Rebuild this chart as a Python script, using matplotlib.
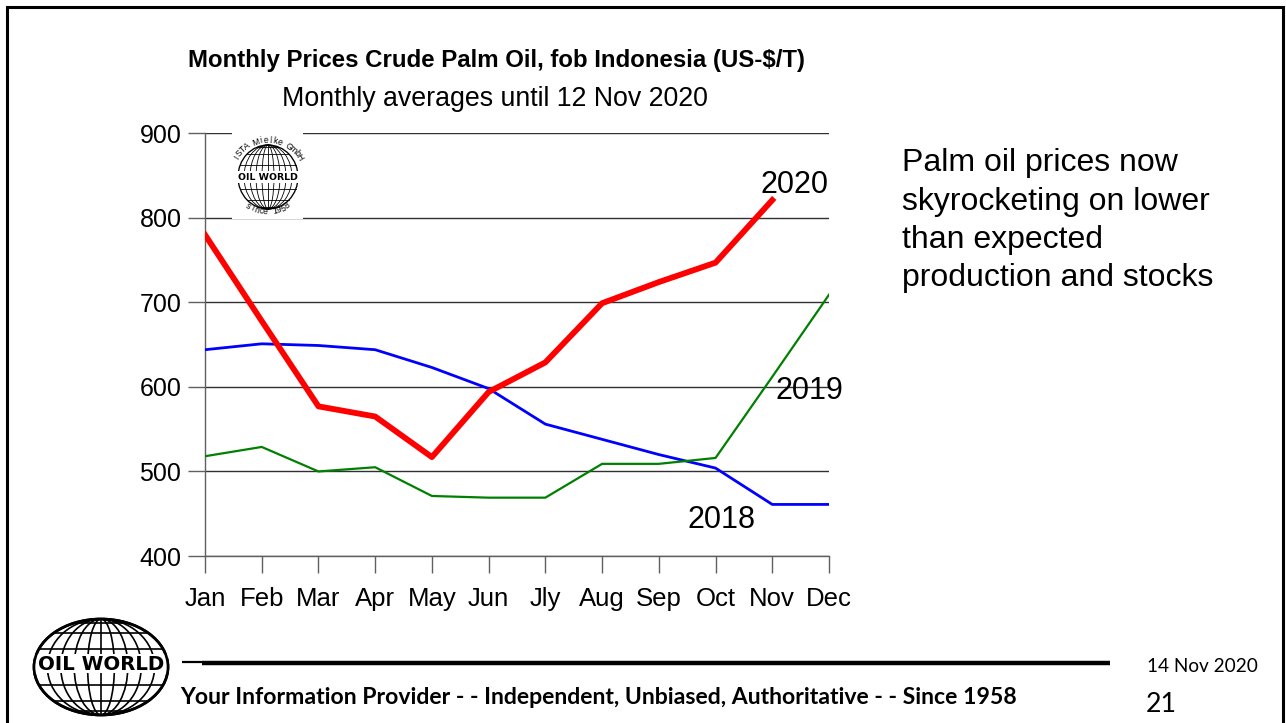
import numpy as np
import matplotlib
matplotlib.use("Agg")
import matplotlib.pyplot as plt
from matplotlib.patches import Ellipse, Rectangle

# ---------------- data ----------------
months = ["Jan", "Feb", "Mar", "Apr", "May", "Jun", "Jly", "Aug", "Sep", "Oct", "Nov", "Dec"]
prices_2018 = [644, 651, 649, 644, 623, 598, 556, 538, 520, 504, 461, 461]
prices_2019 = [518, 529, 500, 505, 471, 469, 469, 509, 509, 516, 612, 709]
prices_2020 = [780, 678, 577, 565, 517, 594, 629, 699, 724, 747, 821]
y_ticks = [400, 500, 600, 700, 800, 900]

title = "Monthly Prices Crude Palm Oil, fob Indonesia (US-$/T)"
subtitle = "Monthly averages until 12 Nov 2020"
comment_lines = ["Palm oil prices now", "skyrocketing on lower", "than expected",
                 "production and stocks"]
footer = "Your Information Provider - - Independent, Unbiased, Authoritative - - Since 1958"
date_text = "14 Nov 2020"
page_no = "21"

W, H = 1286, 723
fig = plt.figure(figsize=(W / 100, H / 100), dpi=100)
fig.patch.set_facecolor("white")

# ---------------- main chart ----------------
L, R, T, B = 205, 829, 133.3, 556
ax = fig.add_axes([L / W, 1 - B / H, (R - L) / W, (B - T) / H])
x = np.arange(len(months))
ax.plot(x, prices_2018, color="#0000ff", lw=2.0, zorder=3, solid_joinstyle="round")
ax.plot(x, prices_2019, color="#008000", lw=1.6, zorder=3, solid_joinstyle="round")
ax.plot(x[:len(prices_2020)], prices_2020, color="#ff0000", lw=4.2, zorder=4,
        solid_joinstyle="round")
ax.set_xlim(0, len(months) - 1)
ax.set_ylim(400, 900)
ax.set_xticks(x)
ax.set_xticklabels(months, fontsize=18.5, family="Liberation Sans")
ax.set_yticks(y_ticks)
ax.set_yticklabels([str(v) for v in y_ticks], fontsize=18, family="Liberation Sans")
ax.tick_params(axis="x", length=12, width=1, color="#606060", pad=10)
ax.tick_params(axis="y", length=12, width=1, color="#606060", pad=5)
ax.grid(axis="y", color="#303030", lw=1.0)
ax.set_axisbelow(True)
for s in ["top", "right"]:
    ax.spines[s].set_visible(False)
for s in ["left", "bottom"]:
    ax.spines[s].set_color("#606060")
    ax.spines[s].set_linewidth(1.0)
ax.set_facecolor("none")

ax.text(10.4, 839, "2020", fontsize=22, family="Liberation Sans", ha="center", va="center", zorder=5)
ax.text(10.66, 595, "2019", fontsize=22, family="Liberation Sans", ha="center", va="center", zorder=5)
ax.text(9.1, 443, "2018", fontsize=22, family="Liberation Sans", ha="center", va="center", zorder=5)

# ---------------- overlay (pixel coordinates) ----------------
ov = fig.add_axes([0, 0, 1, 1], zorder=10)
ov.set_xlim(0, W)
ov.set_ylim(H, 0)
ov.axis("off")
ov.patch.set_alpha(0)

renderer = fig.canvas.get_renderer()


def fit(t, width):
    bb = t.get_window_extent(renderer=renderer)
    t.set_fontsize(t.get_fontsize() * width / bb.width)


# slide border
ov.plot([7, 7, 1283, 1283], [723, 7, 7, 723], color="black", lw=2.2, solid_joinstyle="miter")

# titles
t = ov.text(496, 60, title, fontsize=14, fontweight="bold", family="Liberation Sans",
            ha="center", va="center")
fit(t, 620)
t = ov.text(494.5, 99, subtitle, fontsize=18, family="Liberation Sans", ha="center", va="center")
fit(t, 427)

# comment text
ys = [163, 202, 240, 278]
base = None
for i, (line, yy) in enumerate(zip(comment_lines, ys)):
    t = ov.text(902, yy, line, fontsize=21, family="Liberation Sans", ha="left", va="center")
    if i == 0:
        fit(t, 276)
        base = t.get_fontsize()
    t.set_fontsize(base)


def globe(cx, cy, rx, ry, lw, n_mer=4, n_par=5):
    ov.add_patch(Ellipse((cx, cy), 2 * rx, 2 * ry, fc="white", ec="black", lw=lw * 1.6, zorder=2))
    for f in np.linspace(0, 1, n_mer + 2)[1:-1]:
        ov.add_patch(Ellipse((cx, cy), 2 * rx * f, 2 * ry, fc="none", ec="black", lw=lw, zorder=3))
    ov.plot([cx, cx], [cy - ry, cy + ry], color="black", lw=lw, zorder=3)
    for phi in np.linspace(-np.pi / 2, np.pi / 2, n_par + 2)[1:-1]:
        yy = cy + ry * np.sin(phi)
        hw = rx * np.cos(phi)
        ov.plot([cx - hw, cx + hw], [yy, yy], color="black", lw=lw, zorder=3)


def arc_text(s, cx, cy, r, a0, a1, fs, top=True):
    angs = np.radians(np.linspace(a0, a1, len(s)))
    for ch, a in zip(s, angs):
        px = cx + r * np.cos(a)
        py = cy - r * np.sin(a)
        rot = np.degrees(a) - 90 if top else np.degrees(a) + 90
        ov.text(px, py, ch, fontsize=fs, rotation=rot, ha="center", va="center",
                family="Liberation Sans", zorder=5, rotation_mode="anchor")


# small logo inside chart
ov.add_patch(Rectangle((232, 131), 71, 88, fc="white", ec="none", zorder=1))
globe(268, 177, 30, 32, 0.6, n_mer=4, n_par=7)
ov.add_patch(Rectangle((237, 171), 62, 12, fc="white", ec="none", zorder=4))
t = ov.text(268, 177.5, "OIL WORLD", fontsize=6, fontweight="bold", family="DejaVu Sans",
            ha="center", va="center", zorder=5)
fit(t, 60)
arc_text("ISTA Mielke GmbH", 268, 177, 37, 148, 32, 6.2, top=True)
arc_text("since 1958", 268, 177, 35, 236, 304, 6.2, top=False)

# big logo bottom left
globe(101, 667, 67, 48, 1.2, n_mer=4, n_par=7)
ov.add_patch(Rectangle((34, 654), 134, 19, fc="white", ec="none", zorder=4))
ov.add_patch(Ellipse((101, 667), 134, 96, fc="none", ec="black", lw=1.9, zorder=6))
t = ov.text(101, 664, "OIL WORLD", fontsize=12, fontweight="heavy", family="DejaVu Sans",
            ha="center", va="center", zorder=5)
fit(t, 126)

# footer line
ov.plot([182, 202], [662, 662], color="black", lw=1.6, solid_capstyle="butt")
ov.plot([202, 1110], [663, 663], color="black", lw=3.2, solid_capstyle="butt")

t = ov.text(180, 698, footer, fontsize=13, fontweight="bold", family="Lato", ha="left", va="center")
fit(t, 838)
t = ov.text(1147, 666, date_text, fontsize=11, family="Lato", ha="left", va="center")
fit(t, 111)
t = ov.text(1146, 704, page_no, fontsize=18, family="Lato", ha="left", va="center")
fit(t, 31)

fig.savefig("out.png", dpi=100)
